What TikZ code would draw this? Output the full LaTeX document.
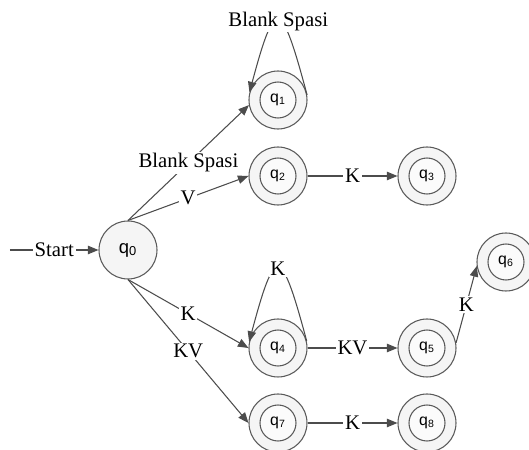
\documentclass[tikz,border=0pt]{standalone}
\usepackage{fontspec}
\setmainfont{Liberation Serif}
\setsansfont{Liberation Sans}
\usetikzlibrary{arrows.meta}

\begin{document}
\begin{tikzpicture}[x=1cm,y=1cm,>={Triangle[length=6pt,width=4.8pt]}]
\tikzset{
    state/.style={circle,draw=black!65,fill=gray!8,line width=0.6pt,minimum size=1.16cm,inner sep=0pt,font=\sffamily\fontsize{10.5}{12}\selectfont},
    accept/.style={state,font=\sffamily\fontsize{9}{10}\selectfont,
        path picture={\draw[black!65,line width=0.6pt,fill=gray!3] (path picture bounding box.center) circle (0.36);}},
    flow/.style={->,draw=black!70,line width=0.6pt},
    lbl/.style={fill=white,inner sep=1pt,font=\fontsize{11.8}{14}\selectfont}
}
\useasboundingbox (0,0) rectangle (10.58,9.0);

% states
\node[state] (q0) at (2.56,4.00) {q\textsubscript{0}};
\node[accept] (q1) at (5.56,7.00) {q\textsubscript{1}};
\node[accept] (q2) at (5.56,5.48) {q\textsubscript{2}};
\node[accept] (q3) at (8.54,5.48) {q\textsubscript{3}};
\node[accept] (q4) at (5.56,2.04) {q\textsubscript{4}};
\node[accept] (q5) at (8.54,2.04) {q\textsubscript{5}};
\node[accept] (q6) at (10.12,3.76) {q\textsubscript{6}};
\node[accept] (q7) at (5.56,0.54) {q\textsubscript{7}};
\node[accept] (q8) at (8.54,0.54) {q\textsubscript{8}};
\coordinate (start) at (0.20,4.00);

% transitions
\draw[flow] (start) -- node[lbl] {Start} (q0.west);
\draw[flow] (q0.90) -- node[lbl] {Blank Spasi} (q1.190);
\draw[flow] (q0.90) -- node[lbl] {V} (q2.180);
\draw[flow] (q0.270) -- node[lbl] {K} (q4.180);
\draw[flow] (q0.270) -- node[lbl] {KV} (q7.180);
\draw[flow] (q2) -- node[lbl] {K} (q3);
\draw[flow] (q4) -- node[lbl] {KV} (q5);
\draw[flow] (q7) -- node[lbl] {K} (q8);
\draw[flow] (q5.10) -- node[lbl] {K} (q6.188);

% loops
\draw[flow] (q1.10) .. controls +(105:2) and +(75:2) .. node[lbl,pos=0.5] {Blank Spasi} (q1.165);
\draw[flow] (q4.14) .. controls +(105:2) and +(75:2) .. node[lbl,pos=0.5] {K} (q4.168);
\end{tikzpicture}
\end{document}
